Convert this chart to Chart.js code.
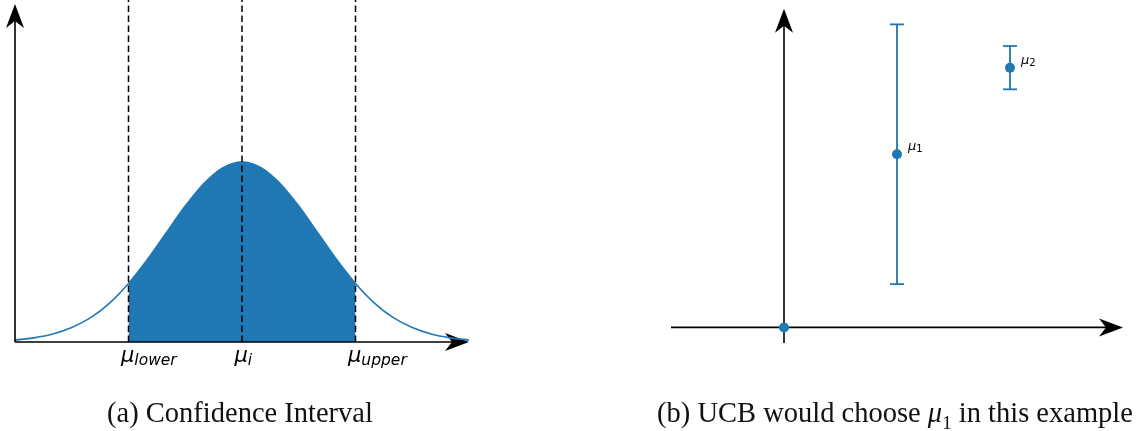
<!DOCTYPE html>
<html>
<head>
<meta charset="utf-8">
<script src="https://cdn.jsdelivr.net/npm/chart.js@4.4.1/dist/chart.umd.min.js"></script>
<style>
  html, body { margin: 0; padding: 0; background: #fff; }
  .stage { position: relative; width: 1143px; height: 431px; overflow: hidden; }
  canvas { position: absolute; top: 0; }
  .caption {
    position: absolute; top: 398px; line-height: 30px;
    font-family: "Liberation Serif", "DejaVu Serif", serif; font-size: 28.5px;
    color: #111; white-space: nowrap; transform: translateX(-50%);
  }
  .caption i sub { font-style: normal; font-size: 19px; }
</style>
</head>
<body>
<div class="stage">
  <canvas id="ci" width="480" height="431" style="left:0"></canvas>
  <canvas id="ucb" width="483" height="431" style="left:660px"></canvas>
  <div class="caption" style="left:240px">(a) Confidence Interval</div>
  <div class="caption" style="left:895px">(b) UCB would choose <i>μ<sub>1</sub></i> in this example</div>
</div>
<script>
// panel (a): normal curve (peak = 1)
const curveX = [-3, -2.75, -2.5, -2.25, -2, -1.75, -1.5, -1.25, -1, -0.75, -0.5, -0.25, 0,
                0.25, 0.5, 0.75, 1, 1.25, 1.5, 1.75, 2, 2.25, 2.5, 2.75, 3];
const curveY = [0.011, 0.023, 0.044, 0.080, 0.135, 0.216, 0.325, 0.458, 0.607, 0.755, 0.882, 0.969, 1.0,
                0.969, 0.882, 0.755, 0.607, 0.458, 0.325, 0.216, 0.135, 0.080, 0.044, 0.023, 0.011];
const boundX = [-1.5, 0, 1.5];
const boundLabels = ['lower', 'i', 'upper'];

// panel (b): arms with confidence bounds
const armX = [1, 2];
const armMean = [1.0, 1.5];
const armLower = [0.25, 1.375];
const armUpper = [1.75, 1.625];
const armLabels = ['1', '2'];
const originPoint = [{ x: 0, y: 0 }];

const BLUE = '#1f77b4';

function arrowHead(ctx, x, y, dir) {
  // stealth-like head, dir 'up' or 'right'
  const len = 24, half = 9, notch = 17;
  ctx.save();
  ctx.translate(x, y);
  if (dir === 'right') ctx.rotate(Math.PI / 2);
  ctx.beginPath();
  ctx.moveTo(0, 0);
  ctx.lineTo(half, len);
  ctx.lineTo(0, notch);
  ctx.lineTo(-half, len);
  ctx.closePath();
  ctx.fillStyle = '#000';
  ctx.fill();
  ctx.restore();
}

const ciAxes = {
  id: 'ciAxes',
  beforeDatasetsDraw(chart) {
    const { ctx, chartArea, scales } = chart;
    const y0 = scales.y.getPixelForValue(0);
    arrowHead(ctx, chartArea.left, 4, 'up');
    arrowHead(ctx, chartArea.right, y0, 'right');
  },
  afterDatasetsDraw(chart) {
    const { ctx, chartArea, scales } = chart;
    const y0 = scales.y.getPixelForValue(0);
    ctx.save();
    ctx.strokeStyle = '#000';
    ctx.lineWidth = 1.6;
    ctx.beginPath();
    ctx.moveTo(chartArea.left, y0);
    ctx.lineTo(chartArea.left, 16);
    ctx.moveTo(chartArea.left, y0);
    ctx.lineTo(chartArea.right - 12, y0);
    ctx.stroke();
    // tick labels: mu with subscript
    ctx.fillStyle = '#000';
    ctx.textBaseline = 'alphabetic';
    boundX.forEach((v, i) => {
      const px = scales.x.getPixelForValue(v) - 7.5;
      ctx.font = 'italic 21px "DejaVu Sans"';
      ctx.fillText('μ', px, y0 + 20);
      const w = ctx.measureText('μ').width;
      ctx.font = 'italic 15.5px "DejaVu Sans"';
      ctx.fillText(boundLabels[i], px + w, y0 + 23);
    });
    ctx.restore();
  }
};

new Chart(document.getElementById('ci'), {
  type: 'line',
  data: {
    datasets: [
      ...boundX.map(v => ({
        data: [{ x: v, y: 0 }, { x: v, y: 1.9 }],
        borderColor: '#000', borderWidth: 1.5, borderDash: [6.5, 3.5],
        pointRadius: 0, fill: false, clip: false
      })),
      {
        data: curveX.map((x, i) => ({ x, y: curveY[i] })),
        borderColor: BLUE, borderWidth: 1.6, pointRadius: 0,
        cubicInterpolationMode: 'monotone', fill: false, clip: false
      },
      {
        data: curveX.map((x, i) => ({ x, y: curveY[i] }))
          .filter(p => p.x >= boundX[0] && p.x <= boundX[2]),
        borderWidth: 0, borderColor: BLUE, backgroundColor: BLUE, pointRadius: 0,
        cubicInterpolationMode: 'monotone', fill: 'origin', clip: false
      }
    ]
  },
  options: {
    responsive: false,
    animation: false,
    devicePixelRatio: 1,
    layout: { padding: { left: 15, right: 11, top: 0, bottom: 89 } },
    plugins: { legend: { display: false }, tooltip: { enabled: false } },
    scales: {
      x: { type: 'linear', min: -3, max: 3, display: false },
      y: { min: 0, max: 1.9, display: false }
    }
  },
  plugins: [ciAxes]
});

const ucbAxes = {
  id: 'ucbAxes',
  beforeDatasetsDraw(chart) {
    const { ctx, chartArea, scales } = chart;
    const x0 = scales.x.getPixelForValue(0);
    const y0 = scales.y.getPixelForValue(0);
    ctx.save();
    ctx.strokeStyle = '#000';
    ctx.lineWidth = 1.6;
    ctx.beginPath();
    ctx.moveTo(x0, chartArea.bottom);
    ctx.lineTo(x0, chartArea.top + 12);
    ctx.moveTo(chartArea.left, y0);
    ctx.lineTo(chartArea.right - 12, y0);
    ctx.stroke();
    ctx.restore();
    arrowHead(ctx, x0, chartArea.top, 'up');
    arrowHead(ctx, chartArea.right, y0, 'right');
  },
  afterDatasetsDraw(chart) {
    const { ctx, scales } = chart;
    ctx.save();
    ctx.fillStyle = '#000';
    armX.forEach((v, i) => {
      const px = scales.x.getPixelForValue(v) + 11;
      const py = scales.y.getPixelForValue(armMean[i]) - 4;
      ctx.font = 'italic 13px "DejaVu Sans"';
      ctx.fillText('μ', px, py);
      const w = ctx.measureText('μ').width;
      ctx.font = '10px "DejaVu Sans"';
      ctx.fillText(armLabels[i], px + w, py + 2);
    });
    ctx.restore();
  }
};

new Chart(document.getElementById('ucb'), {
  type: 'scatter',
  data: {
    datasets: [
      {
        data: armX.map((x, i) => ({ x, y: armMean[i] })).concat(originPoint),
        backgroundColor: BLUE, borderColor: BLUE, pointRadius: 5, borderWidth: 0, clip: false
      },
      ...armX.map((x, i) => ({
        type: 'line',
        data: [{ x, y: armLower[i] }, { x, y: armUpper[i] }],
        borderColor: BLUE, borderWidth: 1.8,
        pointStyle: 'line', pointRadius: 7, pointBorderColor: BLUE, pointBorderWidth: 1.8,
        fill: false, clip: false
      }))
    ]
  },
  options: {
    responsive: false,
    animation: false,
    devicePixelRatio: 1,
    layout: { padding: { left: 11, right: 20, top: 5, bottom: 88 } },
    plugins: { legend: { display: false }, tooltip: { enabled: false } },
    scales: {
      x: { type: 'linear', min: -1, max: 3, display: false },
      y: { min: -0.09, max: 1.84, display: false }
    }
  },
  plugins: [ucbAxes]
});
</script>
</body>
</html>
